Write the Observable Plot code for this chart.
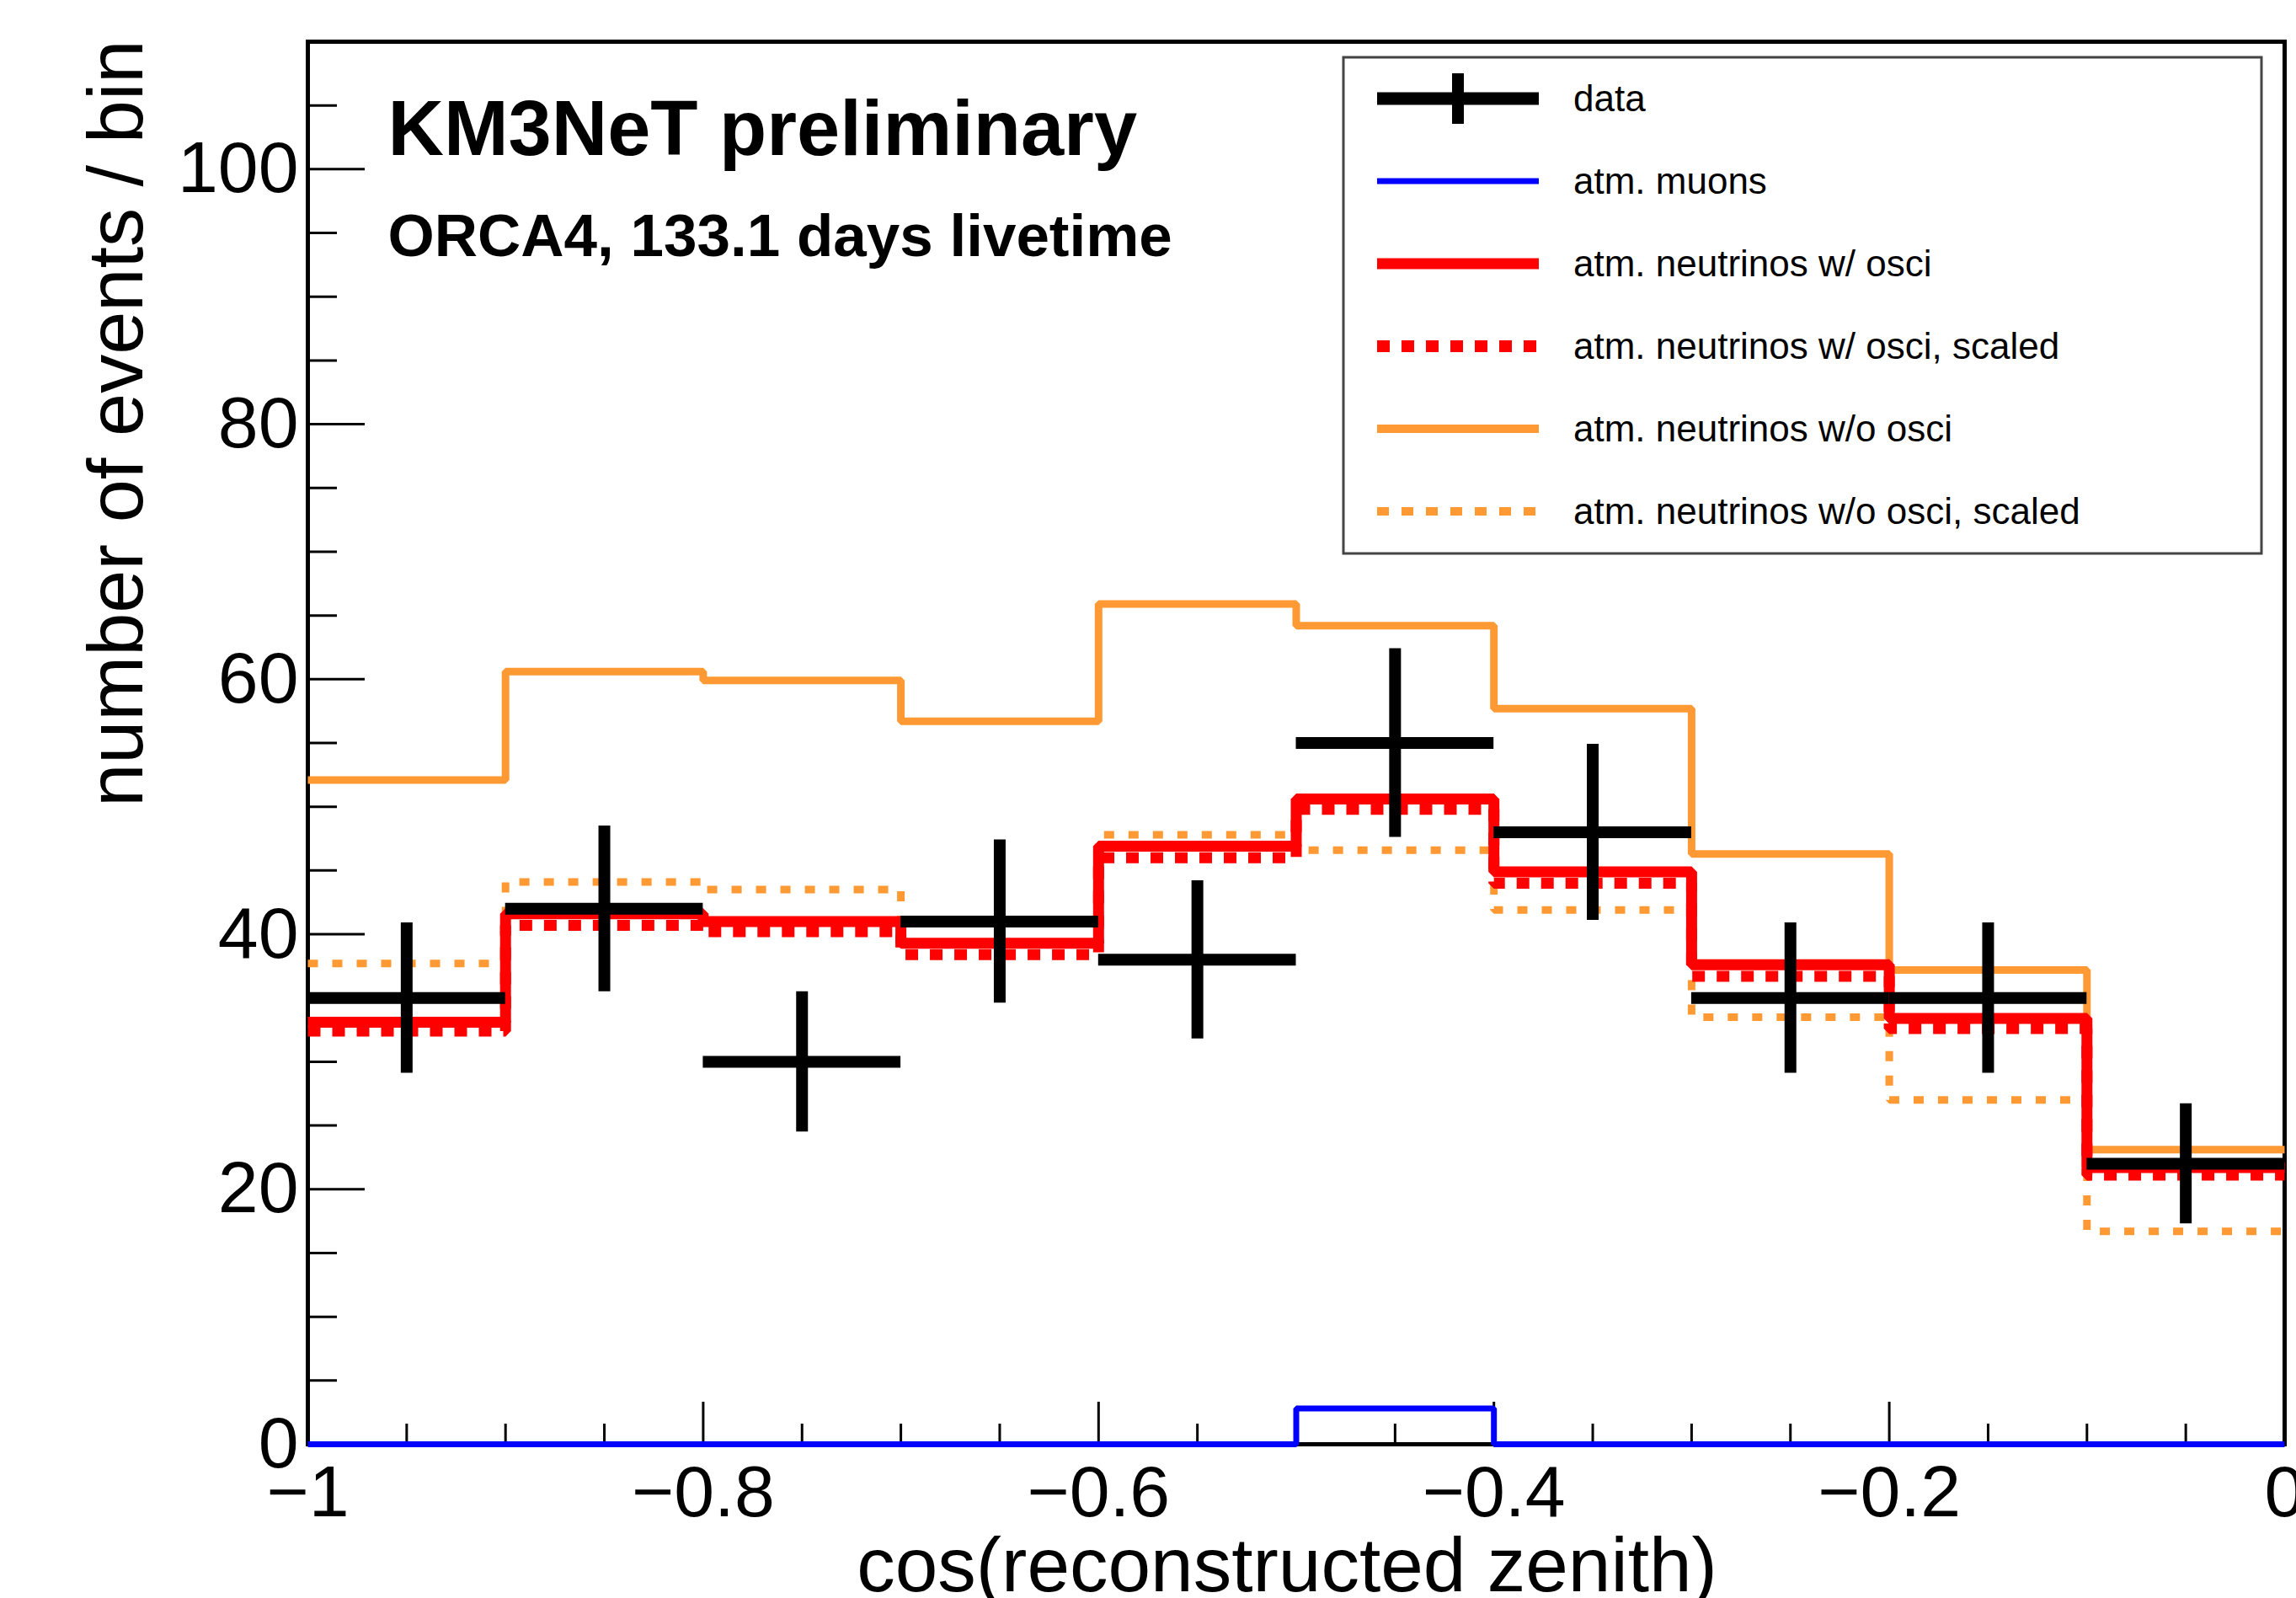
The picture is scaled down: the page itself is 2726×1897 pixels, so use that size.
<!DOCTYPE html>
<html>
<head>
<meta charset="utf-8">
<script src="https://cdn.jsdelivr.net/npm/d3@7"></script>
<script src="https://cdn.jsdelivr.net/npm/@observablehq/plot@0.6"></script>
<style>
  body { margin: 0; background: #fff; }
  #chart { position: relative; width: 2726px; height: 1897px; overflow: hidden; background: #fff; }
</style>
</head>
<body>
<div id="chart"></div>
<script>
// ---------- data ----------
const binEdges = [-1, -0.9, -0.8, -0.7, -0.6, -0.5, -0.4, -0.3, -0.2, -0.1, 0];
const dataCounts = [35, 42, 30, 41, 38, 55, 48, 35, 35, 22];
const dataErr = [5.9, 6.5, 5.5, 6.4, 6.2, 7.4, 6.9, 5.9, 5.9, 4.7];
const atmMuons = [0, 0, 0, 0, 0, 2.8, 0, 0, 0, 0];
const nuOsc = [33.1, 41.6, 41.0, 39.3, 46.9, 50.6, 44.9, 37.6, 33.4, 21.7];
const nuOscScaled = [32.4, 40.7, 40.2, 38.4, 46.0, 49.8, 44.0, 36.7, 32.6, 21.1];
const nuNoOsc = [52.1, 60.6, 59.9, 56.7, 65.9, 64.2, 57.7, 46.3, 37.2, 23.1];
const nuNoOscScaled = [37.7, 44.1, 43.5, 41.1, 47.8, 46.6, 41.9, 33.5, 27.0, 16.7];

const xMajorTicks = [-1, -0.8, -0.6, -0.4, -0.2, 0];
const xMinorTicks = [-0.95, -0.9, -0.85, -0.75, -0.7, -0.65, -0.55, -0.5, -0.45, -0.35, -0.3, -0.25, -0.15, -0.1, -0.05];
const yMajorTicks = [0, 20, 40, 60, 80, 100];
const yMinorTicks = [5, 10, 15, 25, 30, 35, 45, 50, 55, 65, 70, 75, 85, 90, 95, 105];

const titleText = "KM3NeT preliminary";
const subtitleText = "ORCA4, 133.1 days livetime";
const xTitle = "cos(reconstructed zenith)";
const yTitle = "number of events / bin";

const legendLabels = [
  "data",
  "atm. muons",
  "atm. neutrinos w/ osci",
  "atm. neutrinos w/ osci, scaled",
  "atm. neutrinos w/o osci",
  "atm. neutrinos w/o osci, scaled"
];

// ---------- helpers ----------
function steps(vals) {
  const pts = [];
  vals.forEach((v, i) => {
    pts.push({x: binEdges[i], y: v});
    pts.push({x: binEdges[i + 1], y: v});
  });
  return pts;
}
const dataRows = dataCounts.map((v, i) => ({
  lo: binEdges[i], hi: binEdges[i + 1], c: (binEdges[i] + binEdges[i + 1]) / 2,
  v, e1: v - dataErr[i], e2: v + dataErr[i]
}));

const ORANGE = "#ff9933", RED = "#ff0000", BLUE = "#0000ff";
const FONT = "'Liberation Sans', Arial, Helvetica, sans-serif";
const lineOpts = {x: "x", y: "y", strokeLinejoin: "miter", strokeLinecap: "butt"};
const fmtX = d => d === 0 ? "0" : d3.format("")(d);

const plot = Plot.plot({
  width: 2726,
  height: 1897,
  marginTop: 49,
  marginRight: 14,
  marginBottom: 183,
  marginLeft: 365,
  style: {fontFamily: FONT, fontSize: "86px", background: "white", color: "black"},
  x: {domain: [-1, 0]},
  y: {domain: [0, 110]},
  marks: [
    Plot.frame({stroke: "black", strokeWidth: 5}),
    // tick marks (inward)
    Plot.axisX({ticks: xMajorTicks, tickSize: -50, tickFormat: () => "", label: null, strokeWidth: 3}),
    Plot.axisX({ticks: xMinorTicks, tickSize: -24, tickFormat: () => "", label: null, strokeWidth: 3}),
    Plot.axisY({ticks: yMajorTicks, tickSize: -68, tickFormat: () => "", label: null, strokeWidth: 3}),
    Plot.axisY({ticks: yMinorTicks, tickSize: -35, tickFormat: () => "", label: null, strokeWidth: 3}),
    // tick labels
    Plot.axisX({ticks: xMajorTicks, tickSize: 0, tickPadding: 24, tickFormat: fmtX, label: null, fontSize: 86}),
    Plot.axisY({ticks: yMajorTicks, tickSize: 0, tickPadding: 11, label: null, fontSize: 86}),
    // histograms
    Plot.line(steps(nuNoOsc), {...lineOpts, stroke: ORANGE, strokeWidth: 9}),
    Plot.line(steps(nuNoOscScaled), {...lineOpts, stroke: ORANGE, strokeWidth: 9, strokeDasharray: "12,17"}),
    Plot.line(steps(nuOscScaled), {...lineOpts, stroke: RED, strokeWidth: 13, strokeDasharray: "15,14"}),
    Plot.line(steps(nuOsc), {...lineOpts, stroke: RED, strokeWidth: 13}),
    Plot.line(steps(atmMuons), {...lineOpts, stroke: BLUE, strokeWidth: 7}),
    // data crosses
    Plot.ruleY(dataRows, {x1: "lo", x2: "hi", y: "v", stroke: "black", strokeWidth: 14}),
    Plot.ruleX(dataRows, {x: "c", y1: "e1", y2: "e2", stroke: "black", strokeWidth: 14}),
    // texts
    Plot.text([titleText], {text: d => d, frameAnchor: "top-left", dx: 95, dy: 134, textAnchor: "start", lineAnchor: "bottom", fontSize: 92, fontWeight: "bold", fill: "black"}),
    Plot.text([subtitleText], {text: d => d, frameAnchor: "top-left", dx: 95, dy: 254, textAnchor: "start", lineAnchor: "bottom", fontSize: 71, fontWeight: "bold", fill: "black"}),
    Plot.text([xTitle], {text: d => d, frameAnchor: "bottom", dx: -11, dy: 174, lineAnchor: "bottom", fontSize: 91, fill: "black"}),
    Plot.text([yTitle], {text: d => d, frameAnchor: "top-left", dx: -197, dy: -2, rotate: -90, textAnchor: "end", lineAnchor: "bottom", fontSize: 92, fill: "black"})
  ]
});

document.getElementById("chart").appendChild(plot);

// ---------- legend (drawn into the same SVG) ----------
const svg = d3.select(plot);
const lg = svg.append("g").attr("class", "legend").attr("text-anchor", "start");
const box = {x: 1595, y: 68, w: 1090, h: 589};
lg.append("rect").attr("x", box.x).attr("y", box.y).attr("width", box.w).attr("height", box.h)
  .attr("fill", "white").attr("stroke", "#444").attr("stroke-width", 3);

const legendStyles = [
  {stroke: "black", width: 15, dash: null, cross: true},
  {stroke: BLUE, width: 7, dash: null},
  {stroke: RED, width: 13, dash: null},
  {stroke: RED, width: 14, dash: "15,14"},
  {stroke: ORANGE, width: 10, dash: null},
  {stroke: ORANGE, width: 10, dash: "14,15"}
];
const sx1 = 1635, sx2 = 1827, tx = 1868, row0 = 117, rowStep = 98;
legendLabels.forEach((lab, i) => {
  const y = row0 + i * rowStep;
  const st = legendStyles[i];
  const ln = lg.append("line").attr("x1", sx1).attr("x2", sx2).attr("y1", y).attr("y2", y)
    .attr("stroke", st.stroke).attr("stroke-width", st.width).attr("stroke-linecap", "butt");
  if (st.dash) ln.attr("stroke-dasharray", st.dash);
  if (st.cross) {
    lg.append("line").attr("x1", (sx1 + sx2) / 2).attr("x2", (sx1 + sx2) / 2)
      .attr("y1", y - 30).attr("y2", y + 30).attr("stroke", "black").attr("stroke-width", 14);
  }
  lg.append("text").attr("x", tx).attr("y", y + 15).attr("font-size", 44)
    .attr("text-anchor", "start")
    .attr("font-family", FONT).attr("fill", "black").text(lab);
});
</script>
</body>
</html>
